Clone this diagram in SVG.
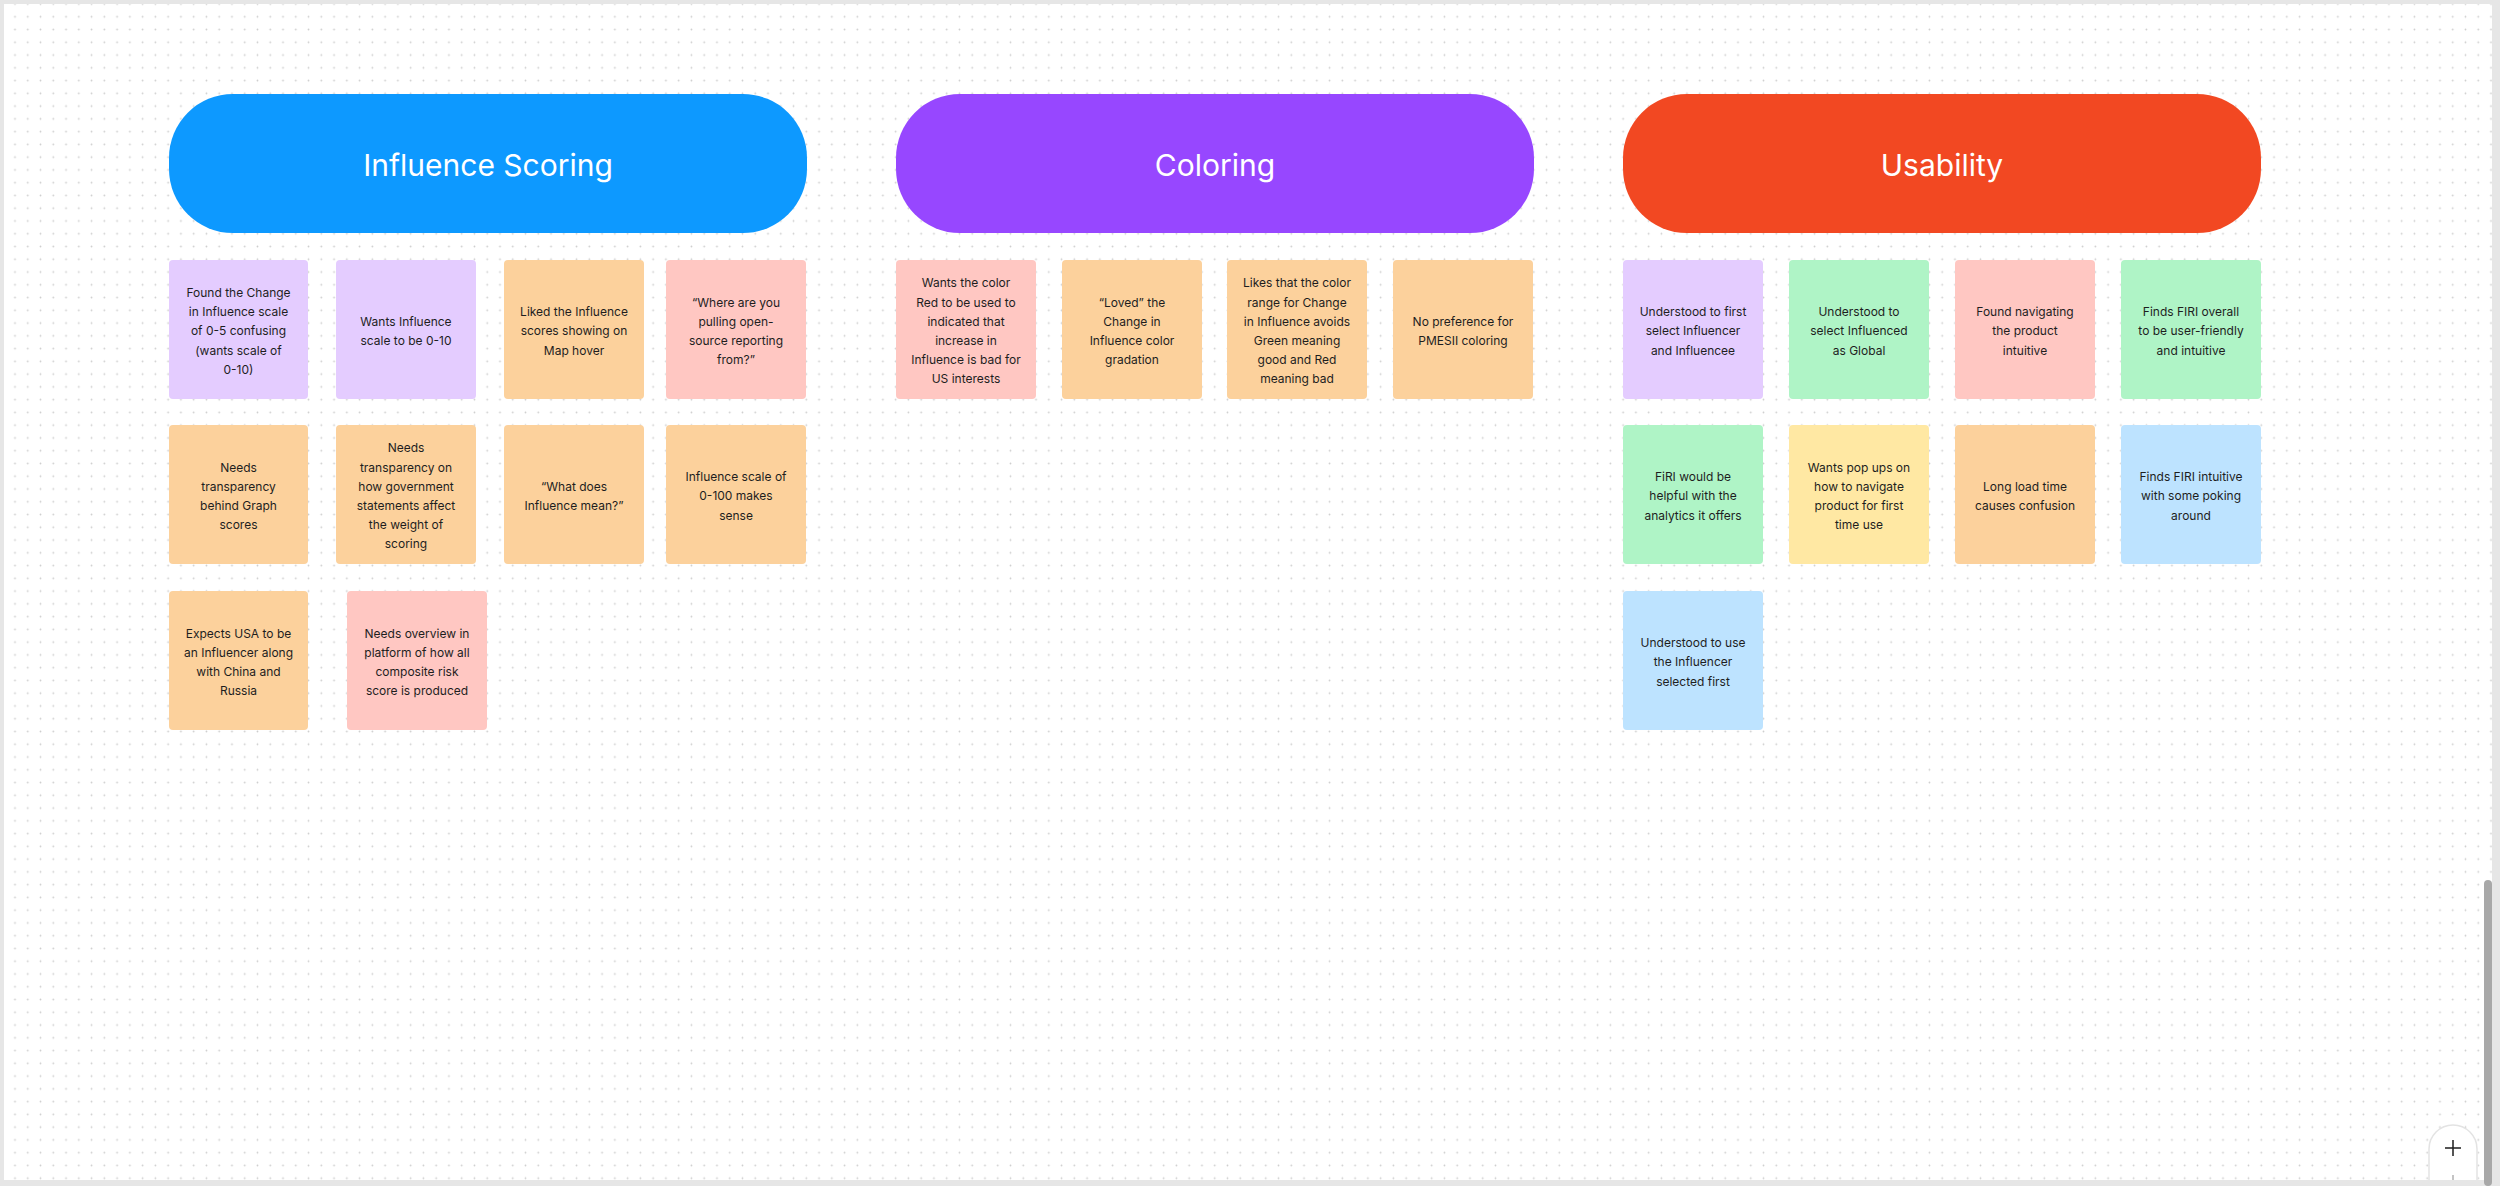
<svg xmlns="http://www.w3.org/2000/svg" width="2500" height="1186" viewBox="0 0 2500 1186">
<style>
.pill-text{font-family:Inter,"Liberation Sans",sans-serif;font-size:30px;fill:#ffffff;text-anchor:middle}
.note-text{font-family:Inter,"Liberation Sans",sans-serif;font-size:12px;fill:#1e1e1e;text-anchor:middle}
.note{rx:4px;ry:4px}
.violet{fill:#E4CCFF}
.orange{fill:#FCD19C}
.red{fill:#FFC7C2}
.green{fill:#AFF4C6}
.yellow{fill:#FFE8A3}
.blue{fill:#BDE3FF}
</style>
<defs>
<pattern id="dots" patternUnits="userSpaceOnUse" x="8.62" y="-2.38" width="12.763" height="12.763">
<circle cx="6.3815" cy="6.3815" r="0.9" fill="#cdcdcd"/>
</pattern>
</defs>
<rect x="0" y="0" width="2500" height="1186" fill="#ffffff"/>
<rect x="0" y="0" width="2500" height="1186" fill="url(#dots)"/>

<!-- Headers -->
<g id="header-influence-scoring">
<rect x="169" y="94" width="638" height="139" rx="64" fill="#0D99FF"/>
<text class="pill-text" x="488" y="175.5">Influence Scoring</text>
</g>
<g id="header-coloring">
<rect x="896" y="94" width="638" height="139" rx="64" fill="#9747FF"/>
<text class="pill-text" x="1215" y="175.5">Coloring</text>
</g>
<g id="header-usability">
<rect x="1623" y="94" width="638" height="139" rx="64" fill="#F24822"/>
<text class="pill-text" x="1942" y="175.5">Usability</text>
</g>

<!-- Influence Scoring notes -->
<g id="note-is-1">
<rect class="note violet" x="169" y="260" width="139" height="139"/>
<text class="note-text" y="296.9"><tspan x="238.5">Found the Change</tspan><tspan x="238.5" dy="19.2">in Influence scale</tspan><tspan x="238.5" dy="19.2">of 0-5 confusing</tspan><tspan x="238.5" dy="19.2">(wants scale of</tspan><tspan x="238.5" dy="19.2">0-10)</tspan></text>
</g>
<g id="note-is-2">
<rect class="note violet" x="336" y="260" width="140" height="139"/>
<text class="note-text" y="325.7"><tspan x="406">Wants Influence</tspan><tspan x="406" dy="19.2">scale to be 0-10</tspan></text>
</g>
<g id="note-is-3">
<rect class="note orange" x="504" y="260" width="140" height="139"/>
<text class="note-text" y="316.1"><tspan x="574">Liked the Influence</tspan><tspan x="574" dy="19.2">scores showing on</tspan><tspan x="574" dy="19.2">Map hover</tspan></text>
</g>
<g id="note-is-4">
<rect class="note red" x="666" y="260" width="140" height="139"/>
<text class="note-text" y="306.5"><tspan x="736">“Where are you</tspan><tspan x="736" dy="19.2">pulling open-</tspan><tspan x="736" dy="19.2">source reporting</tspan><tspan x="736" dy="19.2">from?”</tspan></text>
</g>
<g id="note-is-5">
<rect class="note orange" x="169" y="425" width="139" height="139"/>
<text class="note-text" y="471.5"><tspan x="238.5">Needs</tspan><tspan x="238.5" dy="19.2">transparency</tspan><tspan x="238.5" dy="19.2">behind Graph</tspan><tspan x="238.5" dy="19.2">scores</tspan></text>
</g>
<g id="note-is-6">
<rect class="note orange" x="336" y="425" width="140" height="139"/>
<text class="note-text" y="452.3"><tspan x="406">Needs</tspan><tspan x="406" dy="19.2">transparency on</tspan><tspan x="406" dy="19.2">how government</tspan><tspan x="406" dy="19.2">statements affect</tspan><tspan x="406" dy="19.2">the weight of</tspan><tspan x="406" dy="19.2">scoring</tspan></text>
</g>
<g id="note-is-7">
<rect class="note orange" x="504" y="425" width="140" height="139"/>
<text class="note-text" y="490.7"><tspan x="574">“What does</tspan><tspan x="574" dy="19.2">Influence mean?”</tspan></text>
</g>
<g id="note-is-8">
<rect class="note orange" x="666" y="425" width="140" height="139"/>
<text class="note-text" y="481.1"><tspan x="736">Influence scale of</tspan><tspan x="736" dy="19.2">0-100 makes</tspan><tspan x="736" dy="19.2">sense</tspan></text>
</g>
<g id="note-is-9">
<rect class="note orange" x="169" y="591" width="139" height="139"/>
<text class="note-text" y="637.5"><tspan x="238.5">Expects USA to be</tspan><tspan x="238.5" dy="19.2">an Influencer along</tspan><tspan x="238.5" dy="19.2">with China and</tspan><tspan x="238.5" dy="19.2">Russia</tspan></text>
</g>
<g id="note-is-10">
<rect class="note red" x="347" y="591" width="140" height="139"/>
<text class="note-text" y="637.5"><tspan x="417">Needs overview in</tspan><tspan x="417" dy="19.2">platform of how all</tspan><tspan x="417" dy="19.2">composite risk</tspan><tspan x="417" dy="19.2">score is produced</tspan></text>
</g>

<!-- Coloring notes -->
<g id="note-co-1">
<rect class="note red" x="896" y="260" width="140" height="139"/>
<text class="note-text" y="287.3"><tspan x="966">Wants the color</tspan><tspan x="966" dy="19.2">Red to be used to</tspan><tspan x="966" dy="19.2">indicated that</tspan><tspan x="966" dy="19.2">increase in</tspan><tspan x="966" dy="19.2">Influence is bad for</tspan><tspan x="966" dy="19.2">US interests</tspan></text>
</g>
<g id="note-co-2">
<rect class="note orange" x="1062" y="260" width="140" height="139"/>
<text class="note-text" y="306.5"><tspan x="1132">“Loved” the</tspan><tspan x="1132" dy="19.2">Change in</tspan><tspan x="1132" dy="19.2">Influence color</tspan><tspan x="1132" dy="19.2">gradation</tspan></text>
</g>
<g id="note-co-3">
<rect class="note orange" x="1227" y="260" width="140" height="139"/>
<text class="note-text" y="287.3"><tspan x="1297">Likes that the color</tspan><tspan x="1297" dy="19.2">range for Change</tspan><tspan x="1297" dy="19.2">in Influence avoids</tspan><tspan x="1297" dy="19.2">Green meaning</tspan><tspan x="1297" dy="19.2">good and Red</tspan><tspan x="1297" dy="19.2">meaning bad</tspan></text>
</g>
<g id="note-co-4">
<rect class="note orange" x="1393" y="260" width="140" height="139"/>
<text class="note-text" y="325.7"><tspan x="1463">No preference for</tspan><tspan x="1463" dy="19.2">PMESII coloring</tspan></text>
</g>

<!-- Usability notes -->
<g id="note-us-1">
<rect class="note violet" x="1623" y="260" width="140" height="139"/>
<text class="note-text" y="316.1"><tspan x="1693">Understood to first</tspan><tspan x="1693" dy="19.2">select Influencer</tspan><tspan x="1693" dy="19.2">and Influencee</tspan></text>
</g>
<g id="note-us-2">
<rect class="note green" x="1789" y="260" width="140" height="139"/>
<text class="note-text" y="316.1"><tspan x="1859">Understood to</tspan><tspan x="1859" dy="19.2">select Influenced</tspan><tspan x="1859" dy="19.2">as Global</tspan></text>
</g>
<g id="note-us-3">
<rect class="note red" x="1955" y="260" width="140" height="139"/>
<text class="note-text" y="316.1"><tspan x="2025">Found navigating</tspan><tspan x="2025" dy="19.2">the product</tspan><tspan x="2025" dy="19.2">intuitive</tspan></text>
</g>
<g id="note-us-4">
<rect class="note green" x="2121" y="260" width="140" height="139"/>
<text class="note-text" y="316.1"><tspan x="2191">Finds FIRI overall</tspan><tspan x="2191" dy="19.2">to be user-friendly</tspan><tspan x="2191" dy="19.2">and intuitive</tspan></text>
</g>
<g id="note-us-5">
<rect class="note green" x="1623" y="425" width="140" height="139"/>
<text class="note-text" y="481.1"><tspan x="1693">FiRI would be</tspan><tspan x="1693" dy="19.2">helpful with the</tspan><tspan x="1693" dy="19.2">analytics it offers</tspan></text>
</g>
<g id="note-us-6">
<rect class="note yellow" x="1789" y="425" width="140" height="139"/>
<text class="note-text" y="471.5"><tspan x="1859">Wants pop ups on</tspan><tspan x="1859" dy="19.2">how to navigate</tspan><tspan x="1859" dy="19.2">product for first</tspan><tspan x="1859" dy="19.2">time use</tspan></text>
</g>
<g id="note-us-7">
<rect class="note orange" x="1955" y="425" width="140" height="139"/>
<text class="note-text" y="490.7"><tspan x="2025">Long load time</tspan><tspan x="2025" dy="19.2">causes confusion</tspan></text>
</g>
<g id="note-us-8">
<rect class="note blue" x="2121" y="425" width="140" height="139"/>
<text class="note-text" y="481.1"><tspan x="2191">Finds FIRI intuitive</tspan><tspan x="2191" dy="19.2">with some poking</tspan><tspan x="2191" dy="19.2">around</tspan></text>
</g>
<g id="note-us-9">
<rect class="note blue" x="1623" y="591" width="140" height="139"/>
<text class="note-text" y="647.1"><tspan x="1693">Understood to use</tspan><tspan x="1693" dy="19.2">the Influencer</tspan><tspan x="1693" dy="19.2">selected first</tspan></text>
</g>

<g id="connectors"></g>

<!-- UI chrome -->
<g id="zoom-button">
<path d="M2429,1190 V1149 a24,24 0 0 1 48,0 V1190 Z" fill="#ffffff" stroke="#e3e3e3" stroke-width="1.5"/>
<path d="M2445,1148 H2461 M2453,1140 V1156" stroke="#1e1e1e" stroke-width="1.5" fill="none"/>
<path d="M2453,1175 V1182" stroke="#c4c4c4" stroke-width="2"/>
</g>
<g id="frame">
<rect x="0" y="0" width="2500" height="4" fill="#e6e6e6"/>
<rect x="0" y="0" width="4" height="1186" fill="#e6e6e6"/>
<rect x="0" y="1180" width="2500" height="6" fill="#e6e6e6"/>
<rect x="2492" y="0" width="8" height="1186" fill="#e6e6e6"/>
<rect x="2484" y="880" width="8" height="306" rx="4" fill="#a8a8a8"/>
</g>
</svg>
